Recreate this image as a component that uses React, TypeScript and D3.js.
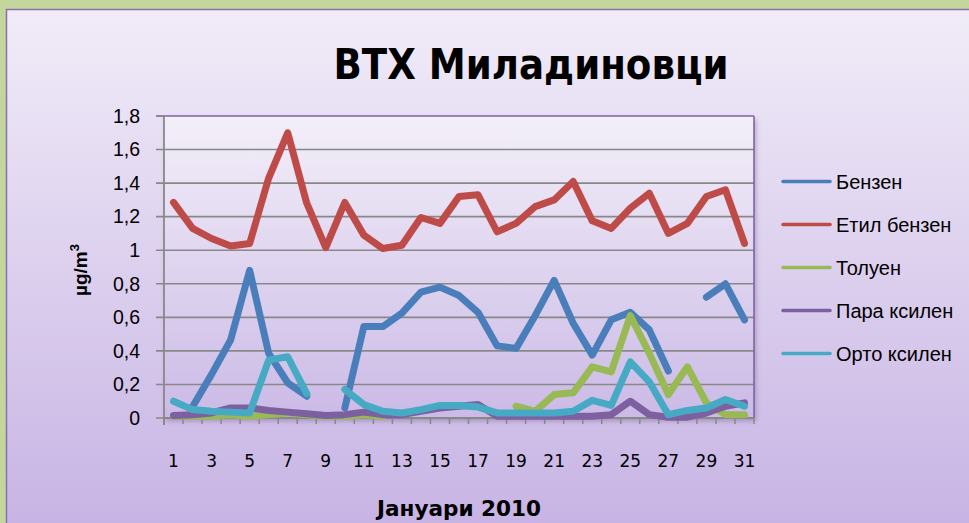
import React from "react";
import * as d3 from "d3";

const days: number[] = Array.from({ length: 31 }, (_, i) => i + 1);
const xTickLabels: string[] = ["1","3","5","7","9","11","13","15","17","19","21","23","25","27","29","31"];
const yTicks: number[] = [0, 0.2, 0.4, 0.6, 0.8, 1, 1.2, 1.4, 1.6, 1.8];

const benzen: (number | null)[] = [null, 0.067, 0.26, 0.465, 0.88, 0.385, 0.21, 0.13, null, 0.06, 0.545, 0.545, 0.625, 0.75, 0.78, 0.73, 0.63, 0.43, 0.415, 0.61, 0.82, 0.565, 0.375, 0.585, 0.63, 0.525, 0.28, null, 0.72, 0.8, 0.585];
const etilBenzen: (number | null)[] = [1.285, 1.13, 1.07, 1.025, 1.04, 1.43, 1.7, 1.28, 1.015, 1.285, 1.09, 1.01, 1.03, 1.195, 1.16, 1.32, 1.33, 1.11, 1.16, 1.26, 1.3, 1.41, 1.175, 1.13, 1.25, 1.34, 1.1, 1.16, 1.32, 1.36, 1.04];
const toluen: (number | null)[] = [0.01, 0.01, 0.01, 0.02, 0.01, 0.02, 0.03, 0.02, 0.01, 0.01, 0.02, 0.01, null, null, null, null, null, null, 0.07, 0.04, 0.14, 0.15, 0.305, 0.275, 0.61, 0.385, 0.14, 0.305, 0.09, 0.02, 0.02];
const paraKsilen: (number | null)[] = [0.015, 0.02, 0.03, 0.06, 0.06, 0.045, 0.035, 0.025, 0.015, 0.02, 0.035, 0.02, 0.02, 0.04, 0.06, 0.07, 0.08, 0.01, 0.01, 0.01, 0.01, 0.01, 0.01, 0.02, 0.1, 0.02, 0.005, 0.005, 0.03, 0.07, 0.09];
const ortoKsilen: (number | null)[] = [0.1, 0.05, 0.04, 0.035, 0.03, 0.345, 0.365, 0.145, null, 0.17, 0.08, 0.04, 0.03, 0.05, 0.075, 0.075, 0.065, 0.03, 0.03, 0.03, 0.03, 0.04, 0.105, 0.075, 0.335, 0.215, 0.02, 0.045, 0.06, 0.11, 0.07];

const seriesNames: string[] = ["Бензен", "Етил бензен", "Толуен", "Пара ксилен", "Орто ксилен"];
const seriesColors: string[] = ["#4a7ebb", "#be4b48", "#98b954", "#7d60a0", "#46aac5"];
const seriesData = [benzen, etilBenzen, toluen, paraKsilen, ortoKsilen];

const W = 969;
const H = 523;
const plot = { left: 164, top: 116, right: 754, bottom: 418 };

export default function App() {
  const x = d3
    .scaleBand<number>()
    .domain(days)
    .range([plot.left, plot.right])
    .padding(0);
  const cx = (d: number) => (x(d) as number) + x.bandwidth() / 2;
  const y = d3.scaleLinear().domain([0, 1.8]).range([plot.bottom, plot.top]);

  const line = d3
    .line<number | null>()
    .defined((d) => d !== null)
    .x((_, i) => cx(days[i]))
    .y((d) => y(d as number));

  const boundaries = days.map((d) => x(d) as number).concat([plot.right]);
  const sans = "'Liberation Sans', Arial, sans-serif";
  const comic = "'DejaVu Sans', sans-serif";

  return (
    <svg width={W} height={H} style={{ position: "absolute", left: 0, top: 0 }}>
      <defs>
        <linearGradient id="panelGrad" x1="0" y1="0" x2="0" y2="1">
          <stop offset="0" stopColor="#f1ecf8" />
          <stop offset="1" stopColor="#c7b3e4" />
        </linearGradient>
        <linearGradient id="plotGrad" x1="0" y1="0" x2="0" y2="1">
          <stop offset="0" stopColor="#f3eff9" />
          <stop offset="1" stopColor="#cbbae6" />
        </linearGradient>
        <filter id="shadow" x="-5%" y="-5%" width="110%" height="115%">
          <feDropShadow dx="2" dy="3" stdDeviation="2.5" floodColor="#6a5a88" floodOpacity="0.45" />
        </filter>
      </defs>
      <rect x={0} y={0} width={W} height={H} fill="#c3d69b" />
      <rect x={6.5} y={9.5} width={W} height={H} fill="url(#panelGrad)" stroke="#8a6fb0" strokeWidth={1.5} />

      {/* title */}
      <text
        x={531}
        y={79}
        textAnchor="middle"
        fontFamily={comic}
        fontWeight="bold"
        fontSize={42}
        textLength={395}
        lengthAdjust="spacingAndGlyphs"
        fill="#000"
      >
        BTX Миладиновци
      </text>

      {/* plot area */}
      <rect
        x={plot.left}
        y={plot.top}
        width={plot.right - plot.left}
        height={plot.bottom - plot.top}
        fill="url(#plotGrad)"
        filter="url(#shadow)"
      />
      {yTicks.map((t) => (
        <line
          key={"g" + t}
          x1={plot.left - 8}
          x2={plot.right}
          y1={y(t)}
          y2={y(t)}
          stroke={t === 1.8 ? "#8064a2" : "#888888"}
          strokeWidth={1.6}
        />
      ))}
      <line x1={plot.left - 8} x2={plot.left} y1={y(1.8)} y2={y(1.8)} stroke="#888888" strokeWidth={1.6} />
      <line x1={plot.right} x2={plot.right} y1={plot.top} y2={plot.bottom} stroke="#8064a2" strokeWidth={1.6} />
      <line x1={plot.left} x2={plot.left} y1={plot.top} y2={plot.bottom + 7} stroke="#888888" strokeWidth={1.8} />
      <line x1={plot.left} x2={plot.right} y1={plot.bottom} y2={plot.bottom} stroke="#888888" strokeWidth={2} />
      {boundaries.map((b, i) => (
        <line key={"xt" + i} x1={b} x2={b} y1={plot.bottom} y2={plot.bottom + 6} stroke="#888888" strokeWidth={1.5} />
      ))}

      {/* y tick labels */}
      {yTicks.map((t) => (
        <text
          key={"yl" + t}
          x={140}
          y={y(t)}
          dy="0.35em"
          textAnchor="end"
          fontFamily={sans}
          fontSize={19.5}
          fill="#000"
        >
          {d3.format(".1~f")(t).replace(".", ",")}
        </text>
      ))}

      {/* x tick labels */}
      {xTickLabels.map((l) => (
        <text
          key={"xl" + l}
          x={cx(+l)}
          y={461}
          dy="0.35em"
          textAnchor="middle"
          fontFamily={comic}
          fontSize={17}
          fill="#000"
        >
          {l}
        </text>
      ))}

      {/* axis titles */}
      <text
        x={459}
        y={516}
        textAnchor="middle"
        fontFamily={comic}
        fontWeight="bold"
        fontSize={21}
        textLength={164}
        lengthAdjust="spacingAndGlyphs"
        fill="#000"
      >
        Јануари 2010
      </text>
      <text
        transform="translate(87,270) rotate(-90)"
        textAnchor="middle"
        fontFamily={sans}
        fontWeight="bold"
        fontSize={19}
        fill="#000"
      >
        µg/m<tspan fontSize={13} dy={-8}>3</tspan>
      </text>

      {/* series */}
      {seriesData.map((s, i) => (
        <path
          key={"s" + i}
          d={line(s) || ""}
          fill="none"
          stroke={seriesColors[i]}
          strokeWidth={7}
          strokeLinejoin="round"
          strokeLinecap="round"
        />
      ))}

      {/* legend */}
      {seriesNames.map((n, i) => {
        const ly = 181.5 + i * 43;
        return (
          <g key={"lg" + i}>
            <line x1={783} x2={830} y1={ly} y2={ly} stroke={seriesColors[i]} strokeWidth={3.5} strokeLinecap="round" />
            <text x={836} y={ly} dy="0.35em" fontFamily={sans} fontSize={20} fill="#000">
              {n}
            </text>
          </g>
        );
      })}
    </svg>
  );
}
